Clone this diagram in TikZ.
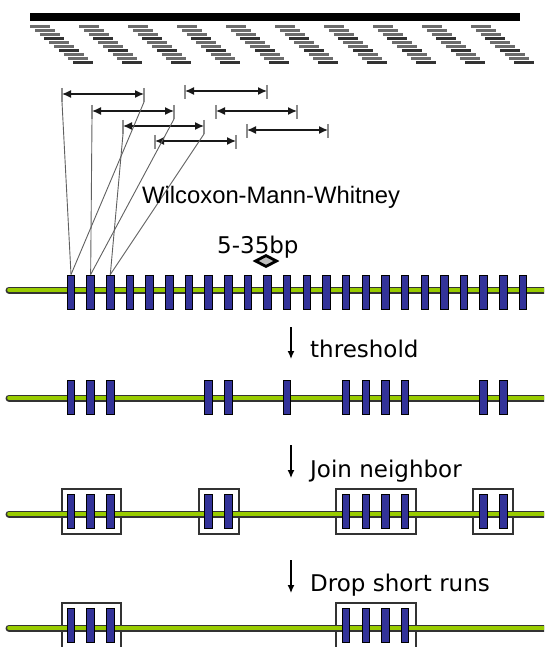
\documentclass[tikz,border=0pt]{standalone}
\usepackage{fontspec}
\setmainfont{DejaVu Sans}
\newfontfamily\arialfont{Liberation Sans}
\usetikzlibrary{arrows.meta,shapes.geometric}
\definecolor{trackgreen}{RGB}{153,204,0}
\definecolor{barblue}{RGB}{51,51,153}
\begin{document}
\begin{tikzpicture}[x=1pt,y=-1pt,
  track/.style={line width=7pt, draw=black!80, line cap=round},
  trackin/.style={line width=3.6pt, draw=trackgreen, line cap=round},
  bar/.style={rectangle, draw=black, fill=barblue, line width=0.9pt, minimum width=7.5pt, minimum height=34pt, inner sep=0pt},
  runbox/.style={rectangle, draw=black!80, line width=1.3pt, inner sep=0pt},
  hatch/.style={line width=3pt, draw=gray!85!black},
  hatchdark/.style={line width=3pt, draw=black!80},
  interval/.style={line width=1.4pt, draw=black!90, {Latex[length=9pt,width=8pt]}-{Latex[length=9pt,width=8pt]}},
  tickmark/.style={line width=2.2pt, draw=gray!90},
  conn/.style={line width=0.9pt, draw=gray!75!black},
  steparrow/.style={line width=1.3pt, -{Latex[length=8pt,width=7pt]}},
  lbl/.style={font=\fontsize{23}{28}\selectfont, inner sep=0pt, anchor=base west},
  wmw/.style={font=\arialfont\fontsize{23.8}{28}\selectfont, inner sep=0pt, anchor=base west}
]
\useasboundingbox (0,0) rectangle (544,647);
\clip (0,0) rectangle (544,647);

% top reference bar
\fill[black] (30,13) rectangle (520,21);

% hatched reads
\foreach \i in {0,...,9}{
  \foreach \k in {0,1,2,4,5,7,8}{
    \draw[hatch] ({30+49*\i+4.8*\k},{27+4*\k}) -- ++(20,0);
  }
  \foreach \k in {3,6,9}{
    \draw[hatchdark] ({30+49*\i+4.8*\k},{27+4*\k}) -- ++(20,0);
  }
}

% row 1: all windows
\draw[track] (9,290) -- (560,290);
\draw[trackin] (9,290) -- (560,290);
\foreach \i in {1,...,24}{
  \node[bar] (ra\i) at ({71+19.65*(\i-1)},292) {};
}

% interval windows
\foreach \n/\xa/\xb/\yy in {1/62/144/94, 2/92/174/111, 3/123/204/126, 4/155/236/141, 5/185/267/91, 6/216/297/111, 7/247/328/130}{
  \coordinate (w\n l) at (\xa,\yy);
  \coordinate (w\n r) at (\xb,\yy);
  \coordinate (w\n lb) at (\xa,\yy+8);
  \coordinate (w\n rb) at (\xb,\yy+8);
  \draw[tickmark] (\xa,\yy-6) -- (w\n lb);
  \draw[tickmark] (\xb,\yy-6) -- (w\n rb);
  \draw[interval] (w\n l) -- (w\n r);
}
\draw[conn] (w1lb) -- (ra1.north);
\draw[conn] (w1rb) -- (ra1.north);
\draw[conn] (w2lb) -- (ra2.north);
\draw[conn] (w2rb) -- (ra2.north);
\draw[conn] (w3lb) -- (ra3.north);
\draw[conn] (w3rb) -- (ra3.north);

\node[wmw] (wmwtext) at (142,203) {Wilcoxon-Mann-Whitney};
\node[lbl] (gaptext) at (217,253) {5-35bp};
\node[diamond, draw=black, line width=2.8pt, fill=gray!50, minimum width=22pt, minimum height=12pt, inner sep=0pt] (gap) at (266,261) {};

% step 1: threshold
\coordinate (s1a) at (291,327);
\coordinate (s1b) at (291,359);
\draw[steparrow] (s1a) -- (s1b);
\node[lbl] (t1) at (310,357.5) {threshold};
\draw[track] (9,398) -- (560,398);
\draw[trackin] (9,398) -- (560,398);
\foreach \i in {1,2,3,8,9,12,15,16,17,18,22,23}{
  \node[bar] (rb\i) at ({71+19.65*(\i-1)},397) {};
}

% step 2: join neighbor
\coordinate (s2a) at (291,445);
\coordinate (s2b) at (291,478);
\draw[steparrow] (s2a) -- (s2b);
\node[lbl] (t2) at (310,477.5) {Join neighbor};
\node[runbox, minimum width=59pt, minimum height=45pt] (bx1) at (91.5,511.5) {};
\node[runbox, minimum width=40pt, minimum height=45pt] (bx2) at (219,511.5) {};
\node[runbox, minimum width=80pt, minimum height=45pt] (bx3) at (376,511.5) {};
\node[runbox, minimum width=40pt, minimum height=45pt] (bx4) at (493,511.5) {};
\draw[track] (9,514) -- (560,514);
\draw[trackin] (9,514) -- (560,514);
\foreach \i in {1,2,3,8,9,15,16,17,18,22,23}{
  \node[bar] (rc\i) at ({71+19.65*(\i-1)},511.5) {};
}

% step 3: drop short runs
\coordinate (s3a) at (291,560);
\coordinate (s3b) at (291,593);
\draw[steparrow] (s3a) -- (s3b);
\node[lbl] (t3) at (310,591) {Drop short runs};
\node[runbox, minimum width=59pt, minimum height=45pt] (by1) at (91.5,625.5) {};
\node[runbox, minimum width=80pt, minimum height=45pt] (by3) at (376,625.5) {};
\draw[track] (9,628) -- (560,628);
\draw[trackin] (9,628) -- (560,628);
\foreach \i in {1,2,3,15,16,17,18}{
  \node[bar] (rd\i) at ({71+19.65*(\i-1)},625.5) {};
}
\end{tikzpicture}
\end{document}
